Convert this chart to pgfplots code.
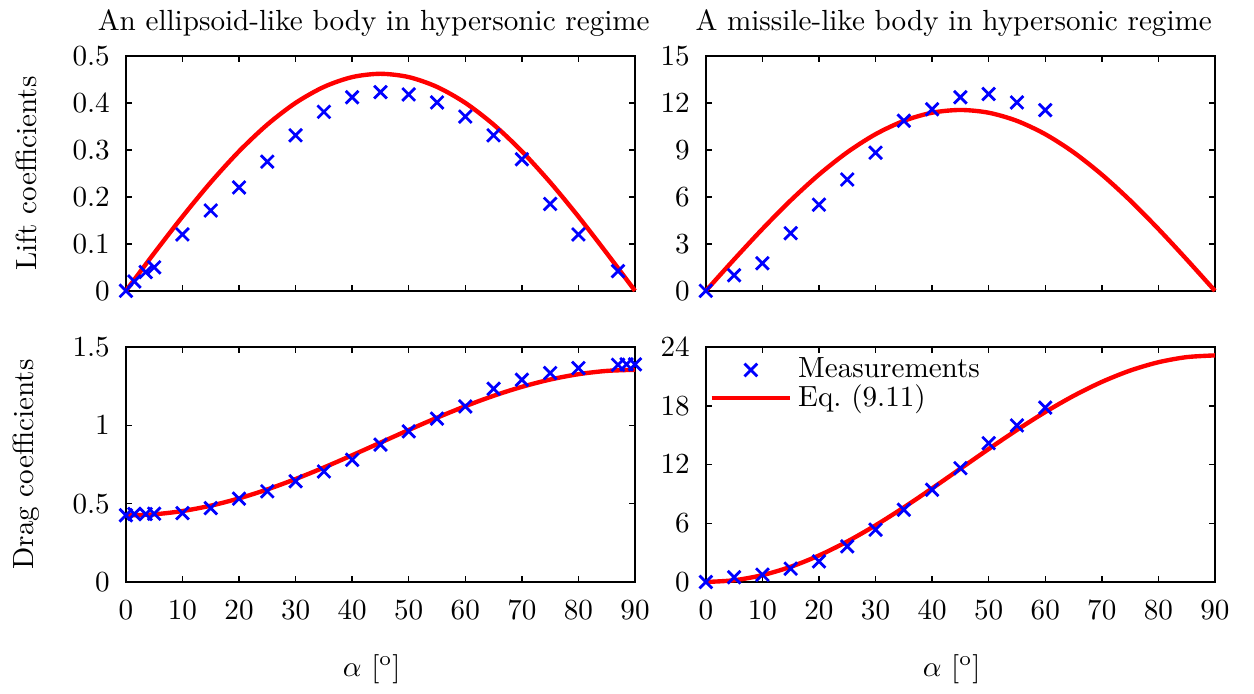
\documentclass[border=0pt]{standalone}
\usepackage{pgfplots}
\pgfplotsset{compat=1.18}

\definecolor{measblue}{RGB}{0,0,255}
\definecolor{eqred}{RGB}{255,0,0}

\pgfplotsset{
  every axis title shift=0pt,
  panel/.style={
    scale only axis,
    width=174.7pt, height=80.6pt,
    xmin=0, xmax=90, xtick={0,10,...,90},
    tick align=inside,
    major tick length=2.1pt,
    axis line style={line width=0.7pt},
    every tick/.style={line width=0.5pt, black},
    clip=false,
    scaled y ticks=false,
    yticklabel style={/pgf/number format/fixed, xshift=-2pt},
    xticklabel style={yshift=-2.9pt},
    legend image code/.code={%
      \draw[mark repeat=2,mark phase=2] plot coordinates {(0pt,0pt) (13.5pt,0pt) (27pt,0pt)};},
    title style={at={(0.5,1)}, anchor=base, yshift=8.9pt, xshift=-2.3pt},
    xlabel style={at={(0.5,0)}, anchor=base, yshift=-32.3pt, xshift=-3pt},
    ylabel style={at={(axis description cs:-0.196,0.5)}, anchor=center},
  },
  measstyle/.style={only marks, mark=x, mark size=3.1pt, measblue, line width=0.95pt},
  eqstyle/.style={no marks, smooth, eqred, line width=1.5pt},
}

\begin{document}
\begin{tikzpicture}

% lift, ellipsoid
\begin{axis}[panel, name=tl, at={(0pt,0pt)}, anchor=north west,
  ymin=0, ymax=0.5, ytick={0,0.1,...,0.5},
  xticklabels={},
  ylabel={Lift coefficients},
  title={An ellipsoid-like body in hypersonic regime}]
  \addplot[measstyle] coordinates {
    (0,0) (1.5,0.02) (3.5,0.04) (5,0.05) (10,0.12) (15,0.171) (20,0.22)
    (25,0.275) (30,0.331) (35,0.381) (40,0.412) (45,0.423) (50,0.418)
    (55,0.401) (60,0.371) (65,0.331) (70,0.28) (75,0.185) (80,0.12) (87,0.042)
  };
  \addplot[eqstyle] coordinates {
    (0,0) (5,0.0802) (10,0.1580) (15,0.2310) (20,0.2970) (25,0.3539)
    (30,0.4001) (35,0.4341) (40,0.4550) (45,0.4620) (50,0.4550) (55,0.4341)
    (60,0.4001) (65,0.3539) (70,0.2970) (75,0.2310) (80,0.1580) (85,0.0802) (90,0)
  };
\end{axis}

% lift, missile
\begin{axis}[panel, name=tr, at={(199pt,0pt)}, anchor=north west,
  ymin=0, ymax=15, ytick={0,3,...,15},
  xticklabels={},
  title={A missile-like body in hypersonic regime}]
  \addplot[measstyle] coordinates {
    (0,0) (5,1.0) (10,1.76) (15,3.68) (20,5.5) (25,7.11) (30,8.82)
    (35,10.86) (40,11.6) (45,12.36) (50,12.57) (55,12.03) (60,11.54)
  };
  \addplot[eqstyle] coordinates {
    (0,0) (5,2.006) (10,3.950) (15,5.775) (20,7.424) (25,8.848)
    (30,10.003) (35,10.853) (40,11.375) (45,11.55) (50,11.375) (55,10.853)
    (60,10.003) (65,8.848) (70,7.424) (75,5.775) (80,3.950) (85,2.006) (90,0)
  };
\end{axis}

% drag, ellipsoid
\begin{axis}[panel, name=bl, at={(0pt,-99.9pt)}, anchor=north west,
  ymin=0, ymax=1.5, ytick={0,0.5,1,1.5},
  ylabel={Drag coefficients},
  xlabel={$\alpha$~[$^{\mathrm{o}}$]}]
  \addplot[measstyle] coordinates {
    (0,0.426) (1.5,0.434) (3.5,0.434) (5,0.436) (10,0.44) (15,0.472) (20,0.532)
    (25,0.579) (30,0.643) (35,0.706) (40,0.78) (45,0.877) (50,0.962)
    (55,1.043) (60,1.121) (65,1.234) (70,1.291) (75,1.334) (80,1.366)
    (87,1.387) (88.5,1.39) (90,1.39)
  };
  \addplot[eqstyle] coordinates {
    (0,0.4250) (5,0.4321) (10,0.4530) (15,0.4873) (20,0.5338) (25,0.5911)
    (30,0.6575) (35,0.7310) (40,0.8093) (45,0.8900) (50,0.9707) (55,1.0490)
    (60,1.1225) (65,1.1889) (70,1.2462) (75,1.2927) (80,1.3270) (85,1.3479) (90,1.3550)
  };
\end{axis}

% drag, missile
\begin{axis}[panel, name=br, at={(199pt,-99.9pt)}, anchor=north west,
  ymin=0, ymax=24, ytick={0,6,...,24},
  xlabel={$\alpha$~[$^{\mathrm{o}}$]},
  legend cell align=left,
  legend style={draw=none, fill=none, at={(0,1)}, anchor=north west,
    inner sep=0pt, row sep=-3pt, xshift=1pt, yshift=-1.5pt}]
  \addplot[measstyle] coordinates {
    (0,0) (5,0.48) (10,0.75) (15,1.36) (20,2.1) (25,3.64) (30,5.34)
    (35,7.38) (40,9.42) (45,11.63) (50,14.18) (55,15.99) (60,17.82)
  };
  \addlegendentry{Measurements}
  \addplot[eqstyle] coordinates {
    (0,0) (5,0.1758) (10,0.6981) (15,1.5508) (20,2.7080) (25,4.1347)
    (30,5.7875) (35,7.6161) (40,9.5650) (45,11.575) (50,13.585) (55,15.534)
    (60,17.363) (65,19.015) (70,20.442) (75,21.599) (80,22.452) (85,22.974) (90,23.15)
  };
  \addlegendentry{Eq.~(9.11)}
\end{axis}

% page frame matching the reference margins
\pgfresetboundingbox
\useasboundingbox (-43.2pt,19.2pt) rectangle (387.1pt,-218.6pt);
\end{tikzpicture}
\end{document}
